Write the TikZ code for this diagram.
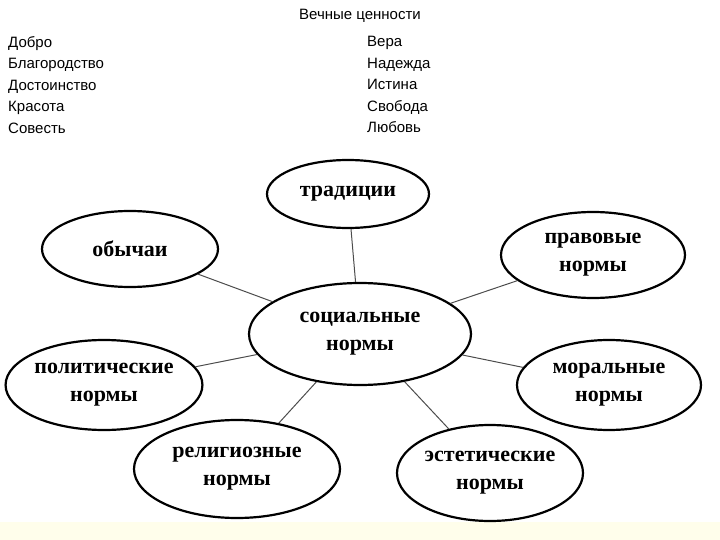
\documentclass[tikz,border=0pt]{standalone}
\usepackage{fontspec}
\setmainfont{Liberation Serif}
\newfontfamily\listfont{Liberation Sans}
\usetikzlibrary{shapes.geometric}
\tikzset{
 el/.style={ellipse,draw=black,line width=2.2pt,fill=white,minimum width=#1,inner sep=0pt,align=center,font=\fontsize{22}{28}\selectfont\bfseries},
 lst/.style={anchor=north west,align=left,font=\listfont\fontsize{15}{21.5}\selectfont,inner sep=0pt},
 con/.style={draw=black!70,line width=1pt}
}
\begin{document}
\begin{tikzpicture}[x=1pt,y=-1pt]
\useasboundingbox (0,0) rectangle (720,540);
\fill[yellow!8] (0,522) rectangle (720,540);
\node[font=\listfont\fontsize{15}{17}\selectfont] (title) at (360,16) {Вечные ценности};
\node[lst] (left) at (8,36) {Добро\\Благородство\\Достоинство\\Красота\\Совесть};
\node[lst] (right) at (367,36) {Вера\\Надежда\\Истина\\Свобода\\Любовь};
\node[el=162pt,minimum height=68pt] (trad) at (348,194) {традиции};
\node[el=176pt,minimum height=76pt] (obych) at (130,249) {обычаи};
\node[el=184pt,minimum height=86pt] (prav) at (593,255) {правовые\\нормы};
\node[el=222pt,minimum height=102pt] (soc) at (360,334) {социальные\\нормы};
\node[el=186pt,minimum height=90pt] (polit) at (104,385) {политические\\нормы};
\node[el=184pt,minimum height=90pt] (moral) at (609,385) {моральные\\нормы};
\node[el=206pt,minimum height=98pt] (relig) at (237,469) {религиозные\\нормы};
\node[el=186pt,minimum height=96pt] (est) at (490,473) {эстетические\\нормы};
\draw[con] (soc) -- (trad);
\draw[con] (soc) -- (obych);
\draw[con] (soc) -- (prav);
\draw[con] (soc) -- (polit);
\draw[con] (soc) -- (moral);
\draw[con] (soc) -- (relig);
\draw[con] (soc) -- (est);
\end{tikzpicture}
\end{document}
